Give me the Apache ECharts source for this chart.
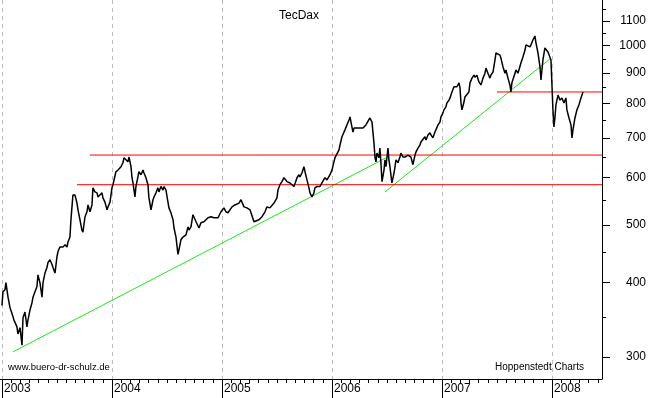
<!DOCTYPE html>
<html>
<head>
<meta charset="utf-8">
<title>TecDax</title>
<script src="https://cdn.jsdelivr.net/npm/echarts@6/dist/echarts.min.js"></script>
<style>
html, body { margin: 0; padding: 0; background: #fff; }
#chart { width: 650px; height: 398px; }
</style>
</head>
<body>
<div id="chart"></div>
<script>
// TecDax Verlauf, Zeit in Dezimaljahren
var years = [
  2003.000, 2003.009, 2003.027, 2003.036, 2003.055, 2003.073, 2003.091, 2003.109, 2003.136, 2003.145,
  2003.164, 2003.182, 2003.191, 2003.209, 2003.227, 2003.236, 2003.255, 2003.273, 2003.282, 2003.300,
  2003.318, 2003.327, 2003.345, 2003.364, 2003.373, 2003.391, 2003.409, 2003.418, 2003.436, 2003.455,
  2003.464, 2003.482, 2003.500, 2003.509, 2003.527, 2003.545, 2003.555, 2003.573, 2003.591, 2003.600,
  2003.618, 2003.627, 2003.645, 2003.664, 2003.682, 2003.691, 2003.709, 2003.727, 2003.736, 2003.755,
  2003.773, 2003.782, 2003.800, 2003.818, 2003.827, 2003.845, 2003.864, 2003.873, 2003.891, 2003.909,
  2003.918, 2003.936, 2003.955, 2003.964, 2003.982,
  2004.000, 2004.009, 2004.036, 2004.055, 2004.064, 2004.082, 2004.100, 2004.109, 2004.127, 2004.145,
  2004.155, 2004.173, 2004.182, 2004.191, 2004.209, 2004.218, 2004.236, 2004.245, 2004.264, 2004.282,
  2004.291, 2004.309, 2004.327, 2004.336, 2004.355, 2004.373, 2004.382, 2004.400, 2004.418, 2004.427,
  2004.445, 2004.464, 2004.473, 2004.491, 2004.509, 2004.518, 2004.536, 2004.555, 2004.564, 2004.582,
  2004.600, 2004.609, 2004.627, 2004.645, 2004.655, 2004.673, 2004.691, 2004.700, 2004.718, 2004.736,
  2004.745, 2004.764, 2004.782, 2004.791, 2004.809, 2004.836, 2004.873, 2004.900, 2004.927, 2004.964,
  2004.991,
  2005.018, 2005.036, 2005.055, 2005.091, 2005.118, 2005.155, 2005.173, 2005.200, 2005.227, 2005.255,
  2005.273, 2005.291, 2005.300, 2005.336, 2005.364, 2005.391, 2005.409, 2005.436, 2005.473, 2005.482,
  2005.500, 2005.509, 2005.527, 2005.545, 2005.564, 2005.573, 2005.591, 2005.609, 2005.618, 2005.636,
  2005.655, 2005.664, 2005.682, 2005.700, 2005.709, 2005.727, 2005.745, 2005.755, 2005.773, 2005.791,
  2005.800, 2005.818, 2005.836, 2005.845, 2005.864, 2005.882, 2005.891, 2005.909, 2005.927, 2005.936,
  2005.955, 2005.973, 2005.982,
  2006.000, 2006.018, 2006.027, 2006.045, 2006.064, 2006.073, 2006.091, 2006.109, 2006.118, 2006.136,
  2006.155, 2006.164, 2006.173, 2006.191, 2006.200, 2006.227, 2006.255, 2006.282, 2006.309, 2006.327,
  2006.345, 2006.355, 2006.364, 2006.382, 2006.391, 2006.400, 2006.409, 2006.427, 2006.436, 2006.445,
  2006.455, 2006.473, 2006.482, 2006.491, 2006.509, 2006.518, 2006.527, 2006.545, 2006.564, 2006.573,
  2006.582, 2006.600, 2006.618, 2006.627, 2006.645, 2006.664, 2006.673, 2006.691, 2006.709, 2006.718,
  2006.736, 2006.755, 2006.764, 2006.782, 2006.800, 2006.809, 2006.827, 2006.845, 2006.855, 2006.873,
  2006.891, 2006.900, 2006.918, 2006.936, 2006.945, 2006.964, 2006.982, 2006.991,
  2007.009, 2007.018, 2007.036, 2007.045, 2007.064, 2007.073, 2007.091, 2007.109, 2007.118, 2007.136,
  2007.155, 2007.164, 2007.173, 2007.182, 2007.200, 2007.209, 2007.227, 2007.245, 2007.255, 2007.273,
  2007.291, 2007.300, 2007.318, 2007.336, 2007.355, 2007.373, 2007.391, 2007.400, 2007.418, 2007.436,
  2007.445, 2007.464, 2007.482, 2007.491, 2007.509, 2007.527, 2007.536, 2007.555, 2007.573, 2007.582,
  2007.600, 2007.618, 2007.627, 2007.636, 2007.664, 2007.673, 2007.691, 2007.709, 2007.718, 2007.736,
  2007.755, 2007.764, 2007.782, 2007.800, 2007.809, 2007.827, 2007.845, 2007.855, 2007.873, 2007.891,
  2007.900, 2007.918, 2007.936, 2007.945, 2007.964, 2007.982, 2007.991,
  2008.000, 2008.009, 2008.018, 2008.027, 2008.036, 2008.055, 2008.073, 2008.091, 2008.109, 2008.127,
  2008.136, 2008.155, 2008.173, 2008.182, 2008.191, 2008.209, 2008.227, 2008.245, 2008.264, 2008.282
];
var tecdax = [
  366, 386, 389, 400, 378, 363, 355, 346, 337, 328,
  336, 314, 349, 357, 337, 346, 360, 370, 378, 386,
  394, 412, 400, 378, 400, 415, 424, 432, 437, 429,
  424, 415, 442, 451, 459, 458, 459, 463, 459, 468,
  477, 510, 561, 561, 544, 530, 510, 490, 486, 516,
  526, 540, 526, 540, 577, 568, 566, 557, 561, 566,
  555, 546, 530, 536, 546,
  577, 584, 614, 618, 614, 626, 636, 648, 650, 638,
  650, 626, 600, 588, 557, 580, 602, 614, 607, 618,
  611, 600, 584, 555, 530, 551, 557, 566, 577, 568,
  580, 572, 580, 572, 546, 534, 524, 510, 494, 477,
  446, 454, 472, 477, 475, 481, 496, 490, 496, 520,
  524, 506, 504, 494, 504, 506, 514, 516, 514, 514,
  526,
  534, 526, 524, 536, 540, 544, 551, 536, 534, 530,
  526, 506, 504, 510, 516, 526, 536, 534, 544, 546,
  555, 572, 584, 591, 600, 602, 591, 595, 588, 584,
  580, 584, 600, 607, 602, 611, 626, 614, 595, 577,
  566, 557, 566, 577, 580, 584, 580, 588, 591, 600,
  595, 595, 607,
  618, 638, 648, 650, 668, 681, 703, 708, 722, 736,
  750, 759, 744, 716, 727, 727, 727, 727, 736, 736,
  756, 759, 744, 686, 650, 638, 660, 648, 673, 636,
  591, 618, 643, 626, 673, 643, 626, 588, 611, 626,
  643, 636, 650, 660, 650, 650, 648, 655, 660, 650,
  631, 655, 663, 673, 681, 689, 694, 703, 694, 708,
  714, 708, 700, 716, 722, 736, 744, 759,
  771, 780, 789, 801, 810, 817, 836, 853, 859, 853,
  866, 849, 801, 780, 804, 820, 817, 836, 866, 882,
  892, 885, 892, 869, 859, 882, 899, 917, 899, 882,
  892, 903, 946, 972, 972, 964, 953, 921, 899, 910,
  882, 859, 836, 866, 899, 910, 899, 903, 935, 957,
  983, 1003, 1010, 995, 1003, 1022, 1038, 1010, 972, 921,
  876, 946, 991, 995, 976, 972, 946,
  859, 780, 730, 756, 795, 826, 810, 817, 801, 817,
  780, 756, 736, 700, 722, 756, 780, 795, 817, 836
];

// Trendlinien (gruen) und Horizontalen (rot)
var trendA = [[2003.100, 306], [2006.491, 648]];
var trendB = [[2006.482, 568], [2007.982, 950]];
var levelValues = [584, 655, 836];
var levelStarts = [2003.682, 2003.800, 2007.500];

var yearLabels = [2003, 2004, 2005, 2006, 2007, 2008];
var yTicks = [300, 400, 500, 600, 700, 800, 900, 1000, 1100];
var yMinorTicks = [350, 450, 550, 650, 750, 850, 950, 1050, 1150];

var xStart = 2002.982, xEnd = 2008.455;
var yMin = 275.5, yMax = 1193;

var monthTicks = [];
yearLabels.forEach(function (y) {
  for (var m = 1; m < 12; m++) {
    if (y + m / 12 <= xEnd) monthTicks.push(y + m / 12);
  }
});

var font = 'Liberation Sans, Arial, sans-serif';
var lineData = years.map(function (t, i) { return [t, tecdax[i]]; });

var series = [{
  name: 'TecDax',
  type: 'line',
  data: lineData,
  showSymbol: false,
  symbol: 'none',
  lineStyle: { color: '#000', width: 1.5 },
  z: 5
}];
[trendA, trendB].forEach(function (tr) {
  series.push({
    type: 'line',
    data: tr,
    symbol: 'none',
    lineStyle: { color: '#1ee61e', width: 1 },
    z: 3
  });
});
levelValues.forEach(function (v, i) {
  series.push({
    type: 'line',
    data: [[levelStarts[i], v], [xEnd, v]],
    symbol: 'none',
    lineStyle: { color: '#ff0000', width: 1 },
    z: 4
  });
});

var myChart = echarts.init(document.getElementById('chart'));
myChart.setOption({
  animation: false,
  backgroundColor: '#fff',
  title: [
    { text: 'TecDax', left: 279, top: 10, padding: 0,
      textStyle: { fontFamily: font, fontSize: 12, fontWeight: 'normal', color: '#000' } },
    { text: 'www.buero-dr-schulz.de', left: 8, top: 362, padding: 0,
      textStyle: { fontFamily: font, fontSize: 9.5, fontWeight: 'normal', color: '#000' } },
    { text: 'Hoppenstedt Charts', left: 495, top: 362, padding: 0,
      textStyle: { fontFamily: font, fontSize: 10, fontWeight: 'normal', color: '#000' } }
  ],
  grid: { left: 0, right: 48, top: 0, bottom: 19, outerBoundsMode: 'none' },
  xAxis: [{
    type: 'value',
    position: 'bottom',
    min: xStart,
    max: xEnd,
    axisLine: { show: true, onZero: false, lineStyle: { color: '#000', width: 1 } },
    axisTick: { show: true, length: 19, customValues: yearLabels, lineStyle: { color: '#000' } },
    axisLabel: {
      customValues: yearLabels,
      formatter: function (v) { return String(Math.round(v)); },
      align: 'left',
      margin: 4,
      padding: [0, 0, 0, 2],
      fontFamily: font, fontSize: 12, color: '#000'
    },
    splitLine: { show: true, lineStyle: { color: '#bdbdbd', width: 1, type: [4, 4] } }
  }, {
    type: 'value',
    position: 'bottom',
    min: xStart,
    max: xEnd,
    axisLine: { show: false, onZero: false },
    axisTick: { show: true, length: 4, customValues: monthTicks, lineStyle: { color: '#000' } },
    axisLabel: { show: false },
    splitLine: { show: false }
  }],
  yAxis: [{
    type: 'log',
    position: 'right',
    min: yMin,
    max: yMax,
    axisLine: { show: true, onZero: false, lineStyle: { color: '#000', width: 1 } },
    axisTick: { show: true, length: 8, customValues: yTicks, lineStyle: { color: '#000' } },
    axisLabel: {
      customValues: yTicks,
      formatter: function (v) { return String(Math.round(v)); },
      align: 'right',
      margin: 44,
      fontFamily: font, fontSize: 12, color: '#000'
    },
    splitLine: { show: false }
  }, {
    type: 'log',
    position: 'right',
    min: yMin,
    max: yMax,
    axisLine: { show: false, onZero: false },
    axisTick: { show: true, length: 4, customValues: yMinorTicks, lineStyle: { color: '#000' } },
    axisLabel: { show: false },
    splitLine: { show: false }
  }],
  series: series
});
</script>
</body>
</html>
